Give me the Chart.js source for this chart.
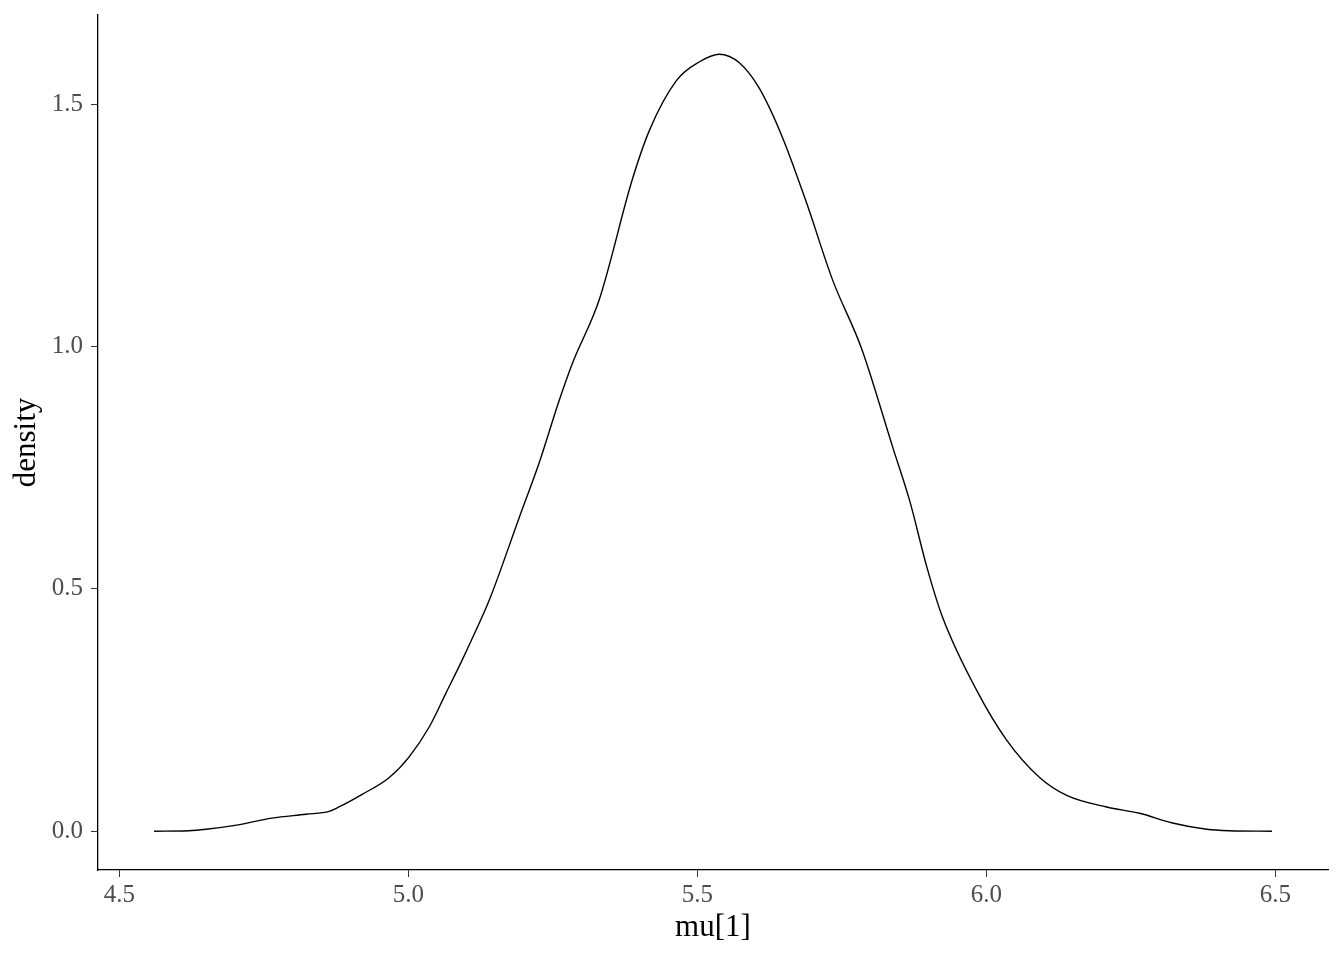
<!DOCTYPE html>
<html>
<head>
<meta charset="utf-8">
<script src="https://cdn.jsdelivr.net/npm/chart.js@4.4.1/dist/chart.umd.min.js"></script>
<style>
  html, body { margin: 0; padding: 0; background: #ffffff; }
  #wrap { width: 1344px; height: 960px; }
</style>
</head>
<body>
<div id="wrap"><canvas id="densityChart" width="1344" height="960"></canvas></div>
<script>
// density estimate of mu[1]
const muValues = [4.560, 4.620, 4.650, 4.700, 4.764, 4.823, 4.863, 4.880, 4.920, 4.967, 5.001, 5.036,
  5.065, 5.093, 5.109, 5.140, 5.192, 5.226, 5.261, 5.284, 5.330, 5.387, 5.417, 5.464,
  5.503, 5.538, 5.573, 5.607, 5.647, 5.689, 5.734, 5.784, 5.838, 5.867, 5.897, 5.924,
  5.983, 6.035, 6.092, 6.139, 6.208, 6.265, 6.322, 6.381, 6.420, 6.494];
const densityValues = [0.000, 0.001, 0.004, 0.012, 0.027, 0.035, 0.041, 0.050, 0.076, 0.111, 0.153, 0.215,
  0.285, 0.353, 0.394, 0.477, 0.648, 0.759, 0.889, 0.966, 1.096, 1.343, 1.446, 1.549,
  1.587, 1.603, 1.585, 1.533, 1.432, 1.296, 1.137, 0.996, 0.792, 0.683, 0.545, 0.442,
  0.291, 0.188, 0.111, 0.074, 0.050, 0.037, 0.017, 0.004, 0.001, 0.000];

const xTicks = [4.5, 5.0, 5.5, 6.0, 6.5];
const yTicks = [0.0, 0.5, 1.0, 1.5];

const fontFamily = '"Liberation Serif", "DejaVu Serif", serif';

const points = muValues.map((x, i) => ({ x: x, y: densityValues[i] }));

new Chart(document.getElementById('densityChart'), {
  type: 'scatter',
  data: {
    datasets: [{
      data: points,
      showLine: true,
      borderColor: '#000000',
      borderWidth: 1.4,
      pointRadius: 0,
      cubicInterpolationMode: 'monotone',
      fill: false
    }]
  },
  options: {
    responsive: false,
    animation: false,
    layout: { padding: { top: 15, right: 16, left: 0, bottom: 0 } },
    plugins: { legend: { display: false }, tooltip: { enabled: false } },
    scales: {
      x: {
        type: 'linear',
        min: 4.463,
        max: 6.591,
        afterBuildTicks: s => { s.ticks = xTicks.map(v => ({ value: v })); },
        afterFit: s => { s.height = 90; s.paddingLeft = 0; s.paddingRight = 0; },
        grid: { drawOnChartArea: false, drawTicks: true, tickLength: 7, tickColor: '#333333', tickWidth: 1 },
        border: { display: true, color: '#000000', width: 1.3 },
        ticks: {
          color: '#4d4d4d',
          font: { family: fontFamily, size: 25 },
          padding: 3,
          maxRotation: 0,
          callback: v => Number(v).toFixed(1)
        },
        title: {
          display: true,
          text: 'mu[1]',
          color: '#000000',
          font: { family: fontFamily, size: 31 },
          padding: { top: 0, bottom: 14 }
        }
      },
      y: {
        type: 'linear',
        min: -0.080,
        max: 1.684,
        afterBuildTicks: s => { s.ticks = yTicks.map(v => ({ value: v })); },
        afterFit: s => { s.width = 98; s.paddingTop = 0; s.paddingBottom = 0; },
        grid: { drawOnChartArea: false, drawTicks: true, tickLength: 7, tickColor: '#333333', tickWidth: 1 },
        border: { display: true, color: '#000000', width: 1.3 },
        ticks: {
          color: '#4d4d4d',
          font: { family: fontFamily, size: 25 },
          padding: 8,
          callback: v => Number(v).toFixed(1)
        },
        title: {
          display: true,
          text: 'density',
          color: '#000000',
          font: { family: fontFamily, size: 31 },
          padding: { top: 8, bottom: 0 }
        }
      }
    }
  }
});
</script>
</body>
</html>
